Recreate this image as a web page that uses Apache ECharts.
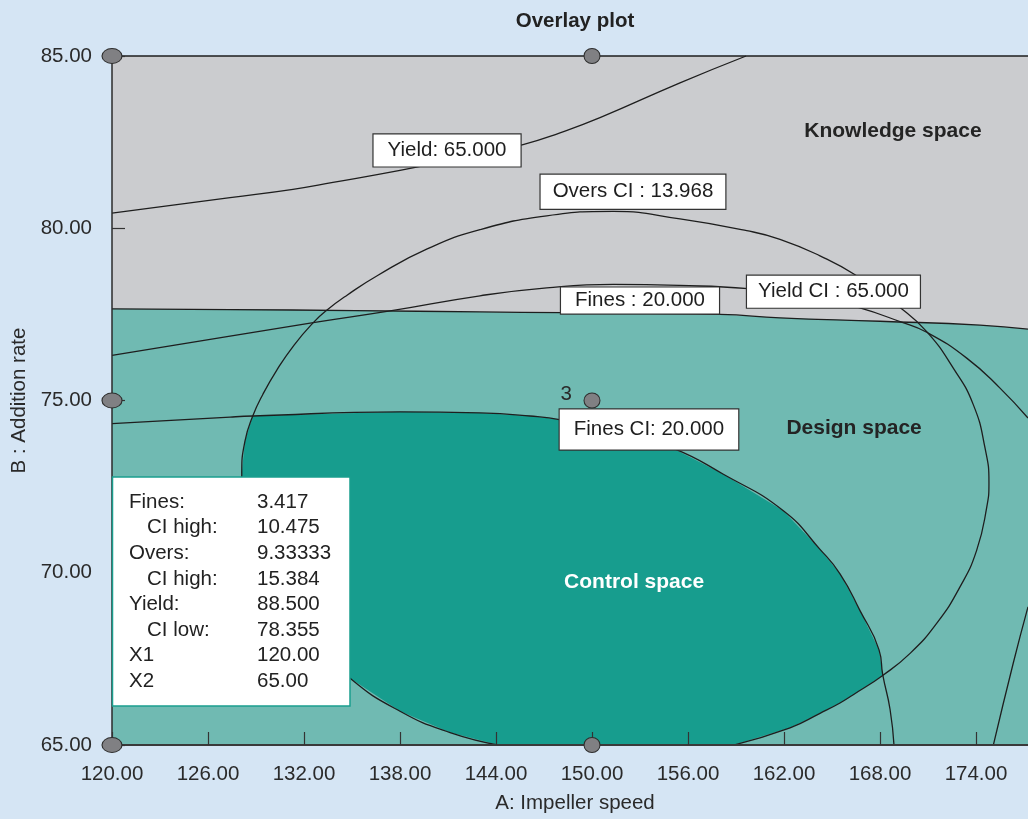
<!DOCTYPE html>
<html><head><meta charset="utf-8">
<script src="https://cdn.jsdelivr.net/npm/echarts@6/dist/echarts.min.js"></script>
<style>html,body{margin:0;padding:0;background:#d5e5f4}#c{width:1028px;height:819px}</style>
</head><body><div id="c"></div>
<script>
// ---- data ----
const xTicks = [120,126,132,138,144,150,156,162,168,174];
const yTicks = [65,70,75,80,85];
const yield65 = [[120,80.44],[127.38,80.89],[131.31,81.13],[133.81,81.33],[138,81.68],[141.75,82.03],[145.69,82.43],[148,82.77],[150.5,83.21],[155.5,84.22],[159.63,85]];
const oversCI = [
 [144.25,64.99],[141.13,65.36],[138,65.98],[134.88,66.94],[132.31,68.15],[130.31,69.30],[128.56,71.03],[128.11,72.91],[128.31,73.82],[128.79,74.54],
 [129.44,75.19],[130.31,75.89],[131.38,76.61],[132.58,77.26],[133.42,77.62],[134.67,78.05],[136.6,78.63],[139.7,79.40],[143,79.96],[147.17,80.36],
 [151.33,80.49],[155.5,80.27],[159.67,79.93],[161.75,79.68],[164.25,79.20],[166.44,78.65],[169.25,77.70],[170.92,77.00],[172.58,75.94],[173.83,74.88],
 [174.56,73.63],[174.81,72.62],[174.67,71.90],[174.04,70.65],[173,69.59],[171.54,68.53],[169.88,67.66],[168.17,67.02],[166.33,66.46],[165.5,66.22],
 [164.25,65.92],[162.38,65.50],[158.63,64.97]
];
const yieldCIa = [[120,76.31],[127.38,76.87],[132.58,77.26],[137.38,77.60],[143,78.04],[147.17,78.27],[151.33,78.37],[155.5,78.34],[159.75,78.25],[163.5,78.05],[166.64,77.70],[169.25,77.29],[170.92,76.98],[173.42,76.23],[175.5,75.36],[177.25,74.49]];
const yieldCIb = [[177.25,69.01],[176.33,67.38],[175.08,64.99]];
const fines20 = [[120,77.66],[127.38,77.64],[135.19,77.61],[143,77.57],[148.19,77.55],[158,77.5],[161.75,77.4],[168,77.3],[174.25,77.19],[177.25,77.07]];
const finesCI = [[120,74.33],[127.38,74.52],[128.81,74.55],[138,74.67],[143,74.64],[146.13,74.55],[148.06,74.44],[151.75,74.06],[155.08,73.61],[158.21,72.86],[161.96,71.80],[164.25,70.68],[165.5,69.97],[166.75,68.9],[167.94,67.76],[168.17,67.04],[168.63,66.03],[168.88,64.97]];
const designPointsEdge = [[120,85],[120,75],[120,65]];
const designPointsCenter = [[150,85],[150,75],[150,65]];
const runLabel = [[148.38,75.18,'3']];
const contourLabels = [
 [140.94,82.26,'Yield: 65.000'],
 [152.56,81.06,'Overs CI : 13.968'],
 [153.0,77.90,'Fines : 20.000'],
 [165.09,78.16,'Yield CI : 65.000'],
 [153.56,74.16,'Fines CI: 20.000']
];
const regionLabels = [
 [168.81,82.83,'Knowledge space'],
 [166.38,74.21,'Design space'],
 [152.63,69.74,'Control space']
];
const infoNames = ['Fines:','CI high:','Overs:','CI high:','Yield:','CI low:','X1','X2'];
const infoIndent = [0,1,0,1,0,1,0,0];
const infoValues = ['3.417','10.475','9.33333','15.384','88.500','78.355','120.00','65.00'];

// ---- styling ----
const XMIN=120, XMAX=177.25, YMIN=65, YMAX=85;
const C_GRAY='#cbcccf', C_DESIGN='#70bab2', C_CONTROL='#179d8e', C_LINE='#1e1e1e';
const FONT='"Liberation Sans", Arial, sans-serif';
const boxPad = [[5,14],[6,12],[2,14],[5,11],[9,14]];
const regionColors = ['#242424','#242424','#ffffff'];

const designPoly = fines20.concat([[XMAX,YMIN],[XMIN,YMIN]]);
const controlPoly = finesCI.slice(2,16).concat(oversCI.slice(37,43), oversCI.slice(0,10));

function polySeries(points, color, z){
  return {type:'custom', coordinateSystem:'cartesian2d', clip:true, silent:true, z:z,
    data:[[XMIN,YMIN]],
    renderItem:function(params, api){
      return {type:'polygon', shape:{points: points.map(function(p){return api.coord(p);})}, style:{fill:color}};
    }};
}
function lineSeries(points){
  return {type:'line', data:points, showSymbol:false, smooth:0.5, clip:true, silent:true, z:4,
    lineStyle:{color:C_LINE, width:1.3}};
}
function labelSeries(items, z){
  return {type:'scatter', symbol:'circle', symbolSize:1, z:z, silent:true, clip:false,
    itemStyle:{color:'transparent', opacity:1}, data:items};
}
const ellipseSym = 'path://M0,5A5,5,0,1,1,10,5A5,5,0,1,1,0,5Z';

const chart = echarts.init(document.getElementById('c'));
const rowY = [502,527.5,553,579,604,630,655.5,681];
const infoGraphics = [{type:'rect', shape:{x:112.5,y:477,width:237.5,height:229}, style:{fill:'#ffffff', stroke:'#1a9e8e', lineWidth:1.5}, z:100}];
infoNames.forEach(function(n,i){
  infoGraphics.push({type:'text', x: infoIndent[i]?147:129, y:rowY[i], style:{text:n, font:'20.5px '+FONT, fill:'#222', textVerticalAlign:'middle'}, z:101});
  infoGraphics.push({type:'text', x:257, y:rowY[i], style:{text:infoValues[i], font:'20.5px '+FONT, fill:'#222', textVerticalAlign:'middle'}, z:101});
});
infoGraphics.push({type:'text', x:575, y:21, style:{text:'Overlay plot', font:'bold 20.5px '+FONT, fill:'#222', textAlign:'center', textVerticalAlign:'middle'}, z:101});

chart.setOption({
  backgroundColor:'#d5e5f4',
  animation:false,
  grid:{left:112, right:0, top:56, bottom:70, show:true, backgroundColor:C_GRAY, borderWidth:0},
  xAxis:[{type:'value', min:XMIN, max:XMAX, interval:6, z:5,
    axisLine:{show:true, lineStyle:{color:'#3a3a3a', width:2}},
    axisTick:{show:true, inside:true, length:13, customValues:xTicks, lineStyle:{color:'#333', width:1.2}},
    axisLabel:{customValues:xTicks, formatter:function(v){return v.toFixed(2);}, fontSize:20.5, fontFamily:FONT, color:'#2a2a2a', margin:19},
    splitLine:{show:false},
    name:'A: Impeller speed', nameLocation:'middle', nameGap:48, nameTextStyle:{fontSize:20.5, fontFamily:FONT, color:'#2a2a2a', padding:[0,0,0,10]}},
   {type:'value', position:'top', min:XMIN, max:XMAX, z:5,
    axisLine:{show:true, lineStyle:{color:'#1e1e1e', width:1.5}}, axisTick:{show:false}, axisLabel:{show:false}, splitLine:{show:false}}],
  yAxis:{type:'value', min:YMIN, max:YMAX, interval:5, z:5,
    axisLine:{show:true, lineStyle:{color:'#2b2b2b', width:1.5}},
    axisTick:{show:true, inside:true, length:13, customValues:yTicks, lineStyle:{color:'#333', width:1.2}},
    axisLabel:{customValues:yTicks, formatter:function(v){return v.toFixed(2);}, fontSize:20.5, fontFamily:FONT, color:'#2a2a2a', margin:20},
    splitLine:{show:false},
    name:'B : Addition rate', nameLocation:'middle', nameGap:80, nameRotate:90, nameTextStyle:{fontSize:20.5, fontFamily:FONT, color:'#2a2a2a'}},
  graphic: infoGraphics,
  series:[
    polySeries(designPoly, C_DESIGN, 1),
    polySeries(controlPoly, C_CONTROL, 2),
    lineSeries(yield65),
    lineSeries(oversCI),
    lineSeries(yieldCIa),
    lineSeries(yieldCIb),
    lineSeries(fines20),
    lineSeries(finesCI),
    {type:'scatter', data:designPointsEdge, symbol:ellipseSym, symbolSize:[20,15], z:10, silent:true, clip:false,
      itemStyle:{color:'#808083', borderColor:'#2e2e2e', borderWidth:1, opacity:1}},
    {type:'scatter', data:designPointsCenter, symbol:ellipseSym, symbolSize:[16,15], z:10, silent:true, clip:false,
      itemStyle:{color:'#808083', borderColor:'#2e2e2e', borderWidth:1, opacity:1}},
    labelSeries(runLabel.map(function(d){return {value:[d[0],d[1]], label:{show:true, position:'inside', formatter:d[2], fontSize:20.5, fontFamily:FONT, color:'#2a2a2a'}};}), 11),
    labelSeries(contourLabels.map(function(d,i){return {value:[d[0],d[1]], label:{show:true, position:'inside', formatter:d[2], fontSize:20.5, fontFamily:FONT, color:'#1e1e1e',
        backgroundColor:'#ffffff', borderColor:'#333', borderWidth:1.2, padding:[boxPad[i][0],boxPad[i][1],boxPad[i][0],boxPad[i][1]], lineHeight:22}};}), 12),
    labelSeries(regionLabels.map(function(d,i){return {value:[d[0],d[1]], label:{show:true, position:'inside', formatter:d[2], fontSize:21, fontWeight:'bold', fontFamily:FONT, color:regionColors[i]}};}), 12)
  ]
});
</script></body></html>
